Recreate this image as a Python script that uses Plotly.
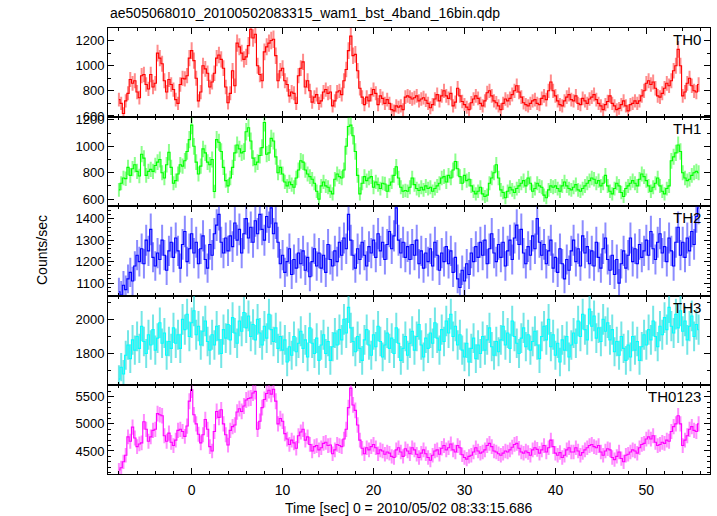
import numpy as np
import plotly.graph_objects as go
from plotly.subplots import make_subplots

# ---- data (0.25 s bins starting at t = -8 s) ----
t_start = -8.0
bin_width = 0.25

th0 = [
    730, 700, 620, 720, 780, 890, 860, 880,
    790, 745, 920, 930, 850, 815, 930, 830,
    860, 1100, 1060, 1015, 880, 790, 890, 850,
    810, 730, 700, 850, 900, 895, 920, 1060,
    1120, 1040, 900, 720, 790, 1000, 975, 940,
    830, 870, 940, 1060, 1085, 1050, 980, 830,
    705, 780, 960, 840, 1180, 1150, 1100, 1050,
    1070, 1160, 1290, 1220, 1250, 1000, 930, 880,
    1110, 1150, 1180, 1200, 1210, 1080, 880, 960,
    980, 880, 850, 760, 790, 780, 700, 920,
    980, 1030, 830, 880, 800, 710, 750, 770,
    700, 720, 790, 810, 780, 790, 680, 720,
    790, 800, 770, 880, 970, 1120, 1235, 1080,
    1090, 960, 820, 750, 690, 750, 720, 770,
    810, 780, 690, 760, 740, 700, 730, 700,
    650, 640, 680, 670, 680, 650, 750, 760,
    750, 735, 745, 760, 720, 735, 745, 725,
    700, 665, 690, 735, 770, 720, 760, 800,
    760, 740, 780, 680, 710, 820, 760, 715,
    690, 670, 650, 705, 735, 760, 740, 700,
    680, 720, 785, 800, 760, 720, 705, 680,
    650, 700, 735, 720, 740, 770, 800, 840,
    790, 750, 705, 690, 680, 700, 720, 730,
    700, 690, 740, 760, 730, 800, 870, 800,
    760, 720, 690, 680, 720, 750, 770, 730,
    720, 760, 700, 690, 740, 720, 700, 735,
    750, 770, 730, 700, 680, 650, 690, 715,
    760, 700, 680, 650, 660, 690, 720, 680,
    640, 690, 700, 720, 700, 720, 760, 800,
    860, 880, 850, 870, 820, 760, 750, 780,
    820, 860, 840, 880, 960, 1000, 1130, 1000,
    760, 790, 860, 900, 840, 800, 790, 850,
]

th1 = [
    670, 720, 760, 755, 840, 780, 830, 860,
    810, 775, 940, 910, 780, 810, 825, 810,
    855, 880, 900, 800, 760, 860, 955, 840,
    720, 740, 790, 860, 850, 890, 960, 1050,
    1160, 1000, 880, 790, 850, 980, 950, 880,
    860, 900, 658, 1050, 1030, 960, 840, 740,
    700, 760, 840, 950, 1010, 980, 950, 960,
    1110, 1140, 1040, 910, 860, 880, 930, 990,
    1180, 940, 950, 1060, 1040, 920, 800, 840,
    790, 730, 700, 730, 710, 690, 760, 820,
    890, 880, 820, 790, 770, 750, 720, 660,
    600, 700, 730, 700, 690, 660, 640, 750,
    790, 770, 760, 820, 1000, 1150, 1160, 1080,
    960, 780, 640, 720, 770, 740, 760, 770,
    690, 730, 710, 680, 720, 715, 660, 705,
    730, 780, 845, 760, 690, 660, 665, 660,
    690, 760, 710, 680, 665, 690, 670, 700,
    680, 690, 660, 680, 700, 720, 760, 770,
    730, 780, 760, 820, 885, 830, 770, 720,
    780, 740, 750, 700, 660, 640, 660, 690,
    640, 620, 630, 720, 760, 800, 860, 760,
    670, 650, 610, 660, 690, 670, 650, 680,
    700, 720, 740, 700, 760, 720, 660, 680,
    720, 700, 690, 630, 610, 670, 700, 690,
    700, 680, 660, 700, 730, 700, 680, 670,
    690, 710, 670, 660, 680, 700, 720, 740,
    760, 750, 720, 740, 700, 720, 780, 700,
    660, 640, 680, 720, 700, 650, 620, 680,
    700, 720, 740, 720, 700, 750, 790, 770,
    740, 700, 660, 690, 720, 760, 700, 660,
    640, 680, 700, 890, 920, 950, 1010, 960,
    800, 760, 740, 750, 780, 800, 810, 800,
]

th2 = [
    1060, 1045, 1090, 1070, 1120, 1150, 1110, 1180,
    1230, 1200, 1260, 1190, 1300, 1250, 1350, 1220,
    1180, 1240, 1210, 1300, 1230, 1160, 1250, 1290,
    1220, 1310, 1250, 1170, 1280, 1340, 1200, 1260,
    1330, 1240, 1290, 1190, 1260, 1320, 1210, 1170,
    1280, 1230, 1330, 1370, 1420, 1290, 1240, 1310,
    1250, 1320, 1270, 1380, 1300, 1350, 1240, 1330,
    1400, 1310, 1360, 1290, 1390, 1330, 1420, 1350,
    1300, 1410, 1360, 1450, 1330, 1380, 1290, 1190,
    1230, 1150, 1200, 1260, 1140, 1210, 1170, 1240,
    1190, 1250, 1160, 1220, 1130, 1200, 1260, 1180,
    1240, 1170, 1230, 1150, 1280, 1210, 1180, 1250,
    1200, 1290, 1230, 1310, 1260, 1420, 1300, 1230,
    1170, 1260, 1210, 1290, 1230, 1180, 1270, 1240,
    1300, 1220, 1330, 1250, 1290, 1210, 1280, 1340,
    1260, 1320, 1450, 1300, 1240, 1290, 1220, 1270,
    1210, 1280, 1230, 1300, 1190, 1250, 1170, 1240,
    1200, 1260, 1180, 1290, 1230, 1160, 1240, 1200,
    1270, 1190, 1250, 1150, 1220, 1120, 1080, 1160,
    1110, 1190, 1140, 1240, 1200, 1270, 1220, 1290,
    1230, 1300, 1190, 1260, 1330, 1240, 1200, 1280,
    1220, 1290, 1180, 1250, 1300, 1210, 1310, 1370,
    1280, 1350, 1240, 1190, 1270, 1230, 1320, 1260,
    1400, 1290, 1230, 1280, 1190, 1250, 1300, 1170,
    1220, 1150, 1260, 1190, 1120, 1210, 1160, 1250,
    1300, 1200, 1260, 1180, 1320, 1240, 1270, 1190,
    1250, 1180, 1290, 1220, 1170, 1260, 1310, 1210,
    1160, 1230, 1140, 1210, 1100, 1190, 1250, 1170,
    1230, 1310, 1200, 1260, 1190, 1280, 1220, 1250,
    1300, 1230, 1340, 1260, 1210, 1290, 1330, 1240,
    1270, 1200, 1310, 1250, 1180, 1290, 1360, 1230,
    1290, 1220, 1310, 1250, 1340, 1280, 1410, 1450,
]

th3 = [
    1650, 1720, 1680, 1790, 1850, 1770, 1880, 1820,
    1900, 1830, 1960, 1870, 1800, 1910, 1850, 1940,
    1820, 1890, 1980, 1860, 1920, 1790, 1870, 1830,
    1950, 1860, 1910, 1830, 2000, 1940, 2030, 1900,
    1980, 2050, 1910, 1960, 1850, 1930, 1990, 1870,
    1820, 1910, 1850, 1960, 1880, 1800, 1940, 1890,
    1970, 1880, 2010, 1920, 1860, 1990, 1930, 2040,
    1950, 2020, 1900, 1970, 1880, 2000, 1920, 1850,
    1960, 1890, 2030, 1940, 1870, 1950, 1830, 1900,
    1820, 1880, 1750, 1840, 1790, 1900, 1810, 1860,
    1930, 1830, 1880, 1780, 1950, 1860, 1800, 1890,
    1760, 1850, 1910, 1800, 1870, 1760, 1840, 1920,
    1850, 1940, 1880, 2000, 1920, 2070, 1950, 1870,
    1810, 1900, 1830, 1760, 1880, 1940, 1850, 1790,
    1910, 1840, 1960, 1870, 1780, 1850, 1920, 1830,
    1890, 1800, 1950, 1860, 1760, 1830, 1900, 1790,
    1860, 1930, 1820, 1900, 1970, 1850, 1780, 1890,
    1830, 1920, 1860, 1980, 1890, 1820, 1940, 1870,
    1990, 1920, 2030, 1900, 1960, 1850, 1910, 1820,
    1780, 1860, 1750, 1830, 1890, 1770, 1850, 1800,
    1900, 1820, 1880, 1950, 1840, 1790, 1870, 1810,
    1880, 1960, 1850, 1920, 1830, 1990, 1900, 1860,
    1800, 1890, 1950, 1840, 1910, 1820, 1870, 1930,
    1850, 1770, 1900, 1960, 1880, 2000, 1840, 1910,
    1790, 1860, 1750, 1880, 1820, 1900, 1780, 1850,
    1920, 1860, 1990, 1900, 2030, 1940, 1880, 2060,
    1960, 2020, 1890, 1950, 1870, 2000, 1930, 1980,
    1880, 1940, 1810, 1870, 1790, 1900, 1830, 1760,
    1850, 1780, 1900, 1820, 1870, 1760, 1840, 1910,
    1850, 1940, 1880, 1990, 1900, 1840, 1960, 1910,
    2010, 1940, 2070, 1960, 1920, 2030, 1950, 2050,
    1930, 1990, 1880, 1960, 2020, 1900, 1970, 1940,
]

th0123 = [
    4150, 4190, 4300, 4420, 4760, 4680, 4940, 4740,
    4580, 4630, 4650, 5040, 4900, 4680, 4760, 4880,
    4900, 5190, 5170, 5150, 4780, 4680, 4830, 4660,
    4600, 4700, 4880, 4900, 4860, 4770, 4960, 5420,
    5630, 5170, 5000, 4810, 4650, 4800, 5080, 4900,
    4580, 4500, 4860, 5230, 5120, 5260, 5000, 4800,
    4610, 4880, 4950, 4980, 5220, 5280, 5230, 5330,
    5440, 5470, 5480, 5570, 5600, 4900, 5050, 5300,
    5450, 5560, 5620, 5550, 5640, 5420, 5000, 5100,
    5050, 4820, 4720, 4620, 4700, 4650, 4550, 4780,
    4850, 4900, 4700, 4760, 4620, 4500, 4580, 4600,
    4520, 4560, 4640, 4660, 4600, 4610, 4450, 4520,
    4620, 4600, 4580, 4720, 4900, 5300, 5660, 5350,
    5250, 4980, 4700, 4550, 4450, 4560, 4520, 4580,
    4620, 4560, 4450, 4520, 4500, 4440, 4480, 4460,
    4400, 4380, 4520, 4560, 4480, 4400, 4540, 4500,
    4450, 4560, 4520, 4440, 4380, 4460, 4520, 4450,
    4380, 4330, 4420, 4500, 4520, 4440, 4550, 4600,
    4520, 4560, 4630, 4520, 4480, 4600, 4560, 4430,
    4380, 4350, 4400, 4420, 4480, 4560, 4500, 4460,
    4480, 4520, 4600, 4640, 4580, 4500, 4480, 4450,
    4420, 4460, 4500, 4480, 4520, 4570, 4620, 4640,
    4550, 4480, 4460, 4500, 4470, 4420, 4520, 4560,
    4530, 4460, 4520, 4600, 4480, 4560, 4700, 4580,
    4460, 4420, 4470, 4380, 4420, 4520, 4560, 4480,
    4480, 4560, 4500, 4420, 4470, 4520, 4560, 4600,
    4620, 4580, 4560, 4600, 4480, 4420, 4500, 4540,
    4520, 4380, 4340, 4400, 4480, 4360, 4300, 4420,
    4440, 4480, 4520, 4500, 4460, 4560, 4620, 4640,
    4720, 4760, 4720, 4780, 4660, 4600, 4620, 4660,
    4640, 4700, 4680, 4860, 4950, 5000, 5150, 5000,
    4600, 4700, 4780, 4900, 4950, 4880, 4860, 5000,
]

names = ["TH0", "TH1", "TH2", "TH3", "TH0123"]
series = [th0, th1, th2, th3, th0123]
colors = ["#ff0000", "#00ff00", "#0000ff", "#00ffff", "#ff00ff"]
err_colors = ["rgba(255,0,0,0.45)", "rgba(0,255,0,0.45)", "rgba(0,0,255,0.45)",
              "rgba(0,210,210,0.55)", "rgba(255,0,255,0.45)"]
y_ranges = [[590, 1300], [545, 1220], [1042, 1457], [1617, 2139], [4075, 5722]]
y_dticks = [200, 200, 100, 200, 500]
y_minor = [100, 100, 20, 100, 100]
x_range = [-9.2, 57.0]

title_text = "ae505068010_20100502083315_wam1_bst_4band_16bin.qdp"
x_title = "Time [sec] 0 = 2010/05/02 08:33:15.686"
y_title = "Counts/sec"

# ---- figure ----
fig = make_subplots(rows=5, cols=1, shared_xaxes=True, vertical_spacing=0)

for k, (name, vals) in enumerate(zip(names, series)):
    v = np.array(vals, dtype=float)
    t = t_start + bin_width * np.arange(len(v))
    err = np.sqrt(v / bin_width)
    row = k + 1
    fig.add_trace(go.Scatter(
        x=t, y=v, mode="markers",
        marker=dict(size=1, color="rgba(0,0,0,0)"),
        error_y=dict(type="data", array=err, color=err_colors[k], thickness=2.0, width=0),
        hoverinfo="skip"), row=row, col=1)
    fig.add_trace(go.Scatter(
        x=t, y=v, mode="lines", line=dict(color=colors[k], width=1.1, shape="hvh"),
        hoverinfo="skip"), row=row, col=1)

font_family = "Liberation Sans, Arial, Helvetica, sans-serif"

for k in range(5):
    row = k + 1
    fig.update_yaxes(range=y_ranges[k], dtick=y_dticks[k], tick0=0,
                     ticks="inside", ticklen=6, tickcolor="black", tickwidth=1,
                     minor=dict(dtick=y_minor[k], ticks="inside", ticklen=3, tickcolor="black"),
                     showline=True, linecolor="black", linewidth=1, mirror="allticks",
                     showgrid=False, zeroline=False,
                     tickfont=dict(size=13, color="black", family=font_family),
                     row=row, col=1)
    fig.update_xaxes(range=x_range, dtick=10, tick0=0,
                     ticks="inside", ticklen=6, tickcolor="black", tickwidth=1,
                     minor=dict(dtick=2, ticks="inside", ticklen=3, tickcolor="black"),
                     showline=True, linecolor="black", linewidth=1, mirror="allticks",
                     showgrid=False, zeroline=False,
                     showticklabels=(row == 5), ticklabelstandoff=3,
                     tickfont=dict(size=14, color="black", family=font_family),
                     row=row, col=1)

H = 446.0
W = 602.0
annotations = [
    dict(text=title_text, xref="paper", yref="paper", x=0, y=1 + 15 / H,
         xanchor="left", yanchor="middle", showarrow=False,
         font=dict(size=14, color="black", family=font_family)),
    dict(text=x_title, xref="paper", yref="paper", x=0.5, y=-34 / H,
         xanchor="center", yanchor="middle", showarrow=False,
         font=dict(size=14, color="black", family=font_family)),
    dict(text=y_title, xref="paper", yref="paper", x=(42 - 108) / W, y=(474 - 250) / H,
         xanchor="center", yanchor="middle", textangle=-90, showarrow=False,
         font=dict(size=14, color="black", family=font_family)),
]
for k, name in enumerate(names):
    top = 1 - 0.2 * k
    annotations.append(dict(text=name, xref="paper", yref="paper", x=(703 - 108) / W,
                            y=top - 1 / H, xanchor="right", yanchor="top", showarrow=False,
                            font=dict(size=15, color="black", family=font_family)))

fig.update_layout(width=717, height=516, margin=dict(l=108, r=7, t=28, b=42),
                  plot_bgcolor="white", paper_bgcolor="white", showlegend=False,
                  font=dict(family=font_family, size=13, color="black"),
                  annotations=annotations)

# remove the default page margin so the figure sits at the window's top-left corner
fig.write_html("out.html", config={"displayModeBar": False},
               post_script="document.body.style.margin='0px';")
